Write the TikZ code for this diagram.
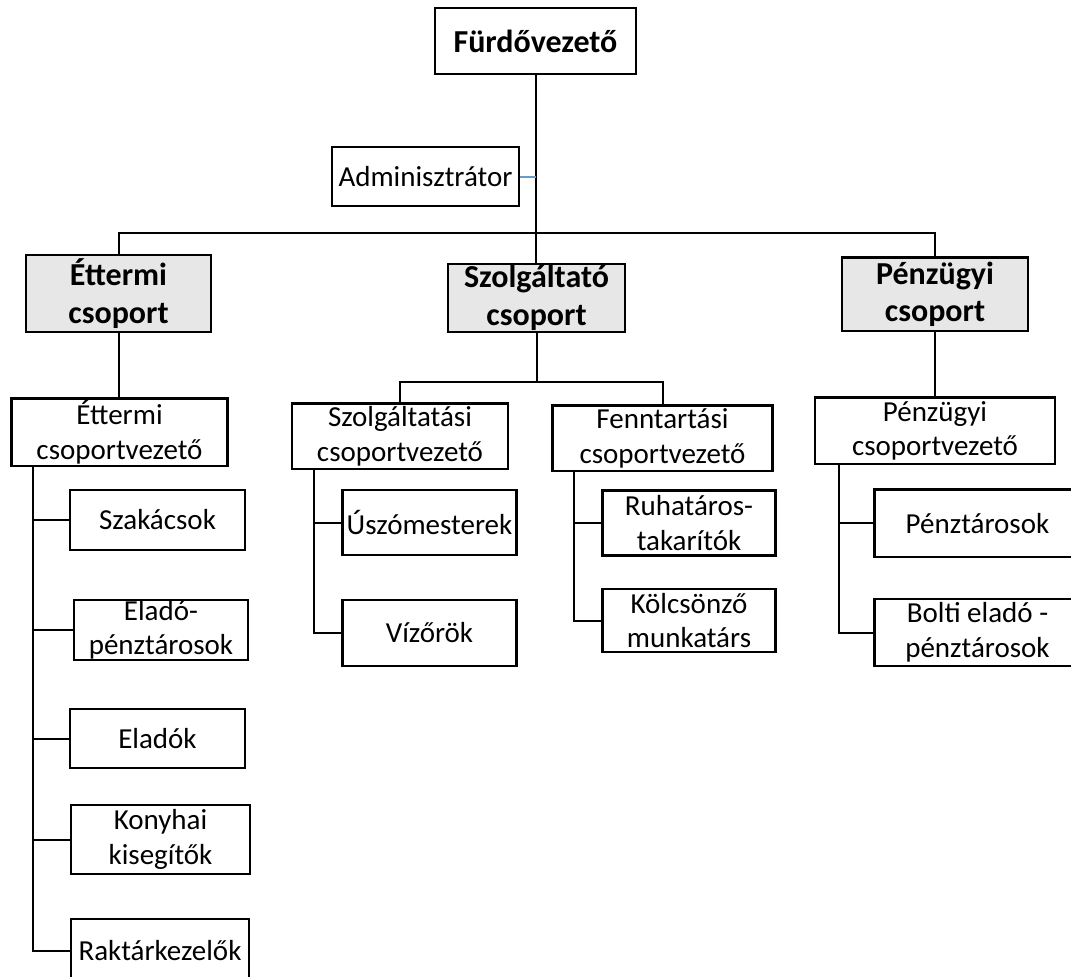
\documentclass[tikz,border=0pt]{standalone}
\usepackage{fontspec}
\setmainfont{Carlito}
\definecolor{headgray}{HTML}{E7E7E7}
\definecolor{admblue}{HTML}{6A9AC8}
\begin{document}
\begin{tikzpicture}[x=1pt,y=-1pt,
    box/.style={draw,line width=2.2pt,inner sep=0pt,align=center,
      font=\fontsize{29}{34.5}\selectfont},
    head/.style={box,fill=headgray,font=\fontsize{32}{37.5}\selectfont\bfseries},
    wh/.style 2 args={minimum width=#1pt,minimum height=#2pt},
    conn/.style={line width=2pt},
  ]
\useasboundingbox (0,0) rectangle (1071,977);
\node[box,wh={201}{66},font=\fontsize{32}{38}\selectfont\bfseries] (furdo) at (535.5,41) {Fürdővezető};
\node[box,wh={187}{59}] (admin) at (425.5,176.5) {Adminisztrátor};
\node[head,wh={185}{77}] (ettcs) at (118.5,293.5) {Éttermi\\csoport};
\node[head,wh={177}{68}] (szolgcs) at (536.5,298) {Szolgáltató\\csoport};
\node[head,wh={186}{73.5}] (penzcs) at (935,294.25) {Pénzügyi\\csoport};
\node[box,wh={216}{67.5}] (ettv) at (119.5,432.25) {Éttermi\\csoportvezető};
\node[box,wh={216}{65.5}] (szolgv) at (400,436.25) {Szolgáltatási\\csoportvezető};
\node[box,wh={220}{65.5}] (fennv) at (662.5,438.25) {Fenntartási\\csoportvezető};
\node[box,wh={240}{66.5}] (penzv) at (935,430.75) {Pénzügyi\\csoportvezető};
% ettermi csoport
\node[box,wh={175}{60}] (szakacs) at (157.5,520) {Szakácsok};
\node[box,wh={174}{60}] (eladopt) at (161,630) {Eladó-\\pénztárosok};
\node[box,wh={175}{59}] (eladok) at (157.5,738.5) {Eladók};
\node[box,wh={179}{69}] (konyhai) at (160.5,839.5) {Konyhai\\kisegítők};
\node[box,wh={178}{64}] (raktar) at (160,951) {Raktárkezelők};
% szolgaltato csoport
\node[box,wh={174}{65}] (uszo) at (429.5,522.5) {Úszómesterek};
\node[box,wh={174}{66}] (vizor) at (429.5,633) {Vízőrök};
\node[box,wh={173}{65}] (ruha) at (689,523) {Ruhatáros-\\takarítók};
\node[box,wh={173}{63}] (kolcs) at (689,620.5) {Kölcsönző\\munkatárs};
% penzugyi csoport
\node[box,wh={206}{67.5}] (penzt) at (977.5,523.25) {Pénztárosok};
\node[box,wh={206}{67}] (bolti) at (977.5,632.5) {Bolti eladó -\\pénztárosok};

\coordinate (bar) at (535.5,233);
\coordinate (sbar) at (536.5,382);
\coordinate (esp) at (32.5,466);
\coordinate (ssp) at (313.5,469);
\coordinate (fsp) at (574,471);
\coordinate (psp) at (839,464);

\draw[conn] (furdo.south) -- (bar);
\draw[conn,admblue] (admin.east) -- (admin.east -| bar);
\draw[conn] (ettcs.north) |- (bar) -| (penzcs.north);
\draw[conn] (bar) -- (bar |- szolgcs.north);
\draw[conn] (ettcs.south) -- (ettcs.south |- ettv.north);
\draw[conn] (penzcs.south) -- (penzv.north);
\draw[conn] (szolgcs.south) -- (sbar);
\draw[conn] (szolgv.north) |- (sbar) -| (fennv.north);

\draw[conn] (esp) |- (raktar.west);
\foreach \n in {szakacs,eladopt,eladok,konyhai}
  \draw[conn] (esp |- \n.west) -- (\n.west);
\draw[conn] (ssp) |- (vizor.west);
\draw[conn] (ssp |- uszo.west) -- (uszo.west);
\draw[conn] (fsp) |- (kolcs.west);
\draw[conn] (fsp |- ruha.west) -- (ruha.west);
\draw[conn] (psp) |- (bolti.west);
\draw[conn] (psp |- penzt.west) -- (penzt.west);
\end{tikzpicture}
\end{document}
